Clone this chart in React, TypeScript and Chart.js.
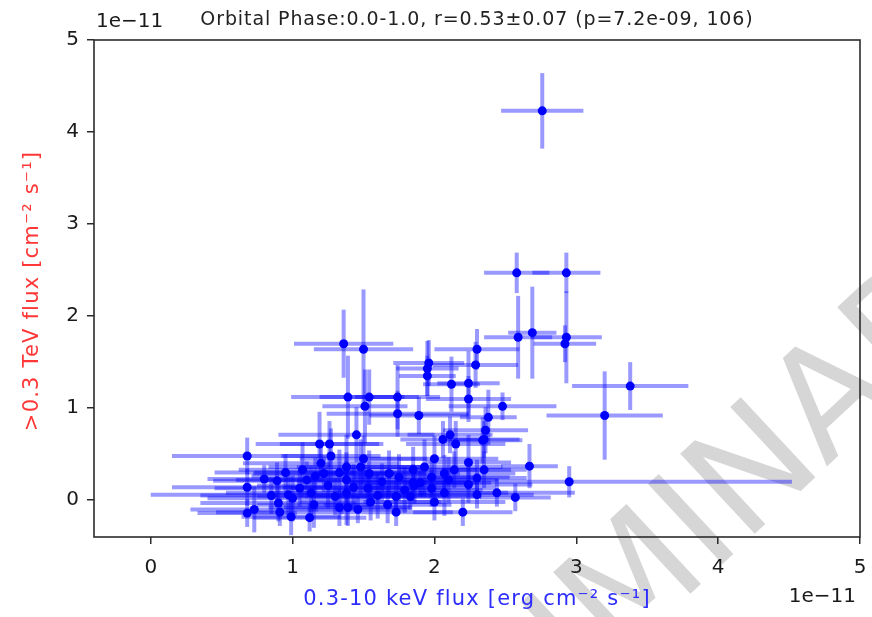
import { useEffect, useRef } from "react";
import { Chart, registerables } from "chart.js";

Chart.register(...registerables);

// Fluxes in units of 1e-11
const xTicks = [0, 1, 2, 3, 4, 5];
const yTicks = [0, 1, 2, 3, 4, 5];

const xFlux = [
  2.76, 2.58, 2.93, 2.59, 2.69, 2.93, 2.92, 3.38, 3.2, 2.95,
  1.36, 1.5, 1.96, 1.95, 1.95, 2.3, 2.29, 2.12, 2.24, 2.24,
  1.39, 1.54, 1.51, 1.74, 1.74, 1.89, 2.38, 2.48, 2.36, 2.35,
  2.06, 2.15, 2.11, 1.45, 1.19, 1.26, 2.34, 0.68, 0.68, 0.68,
  0.73, 0.8, 0.89, 0.9, 0.91, 0.99, 0.97, 1.07, 1.12, 1.13,
  1.15, 1.22, 1.33, 1.39, 1.46, 1.38, 1.38, 1.38, 1.48, 1.54,
  1.43, 1.53, 1.73, 1.73, 1.79, 1.85, 1.85, 1.93, 2.07, 2.07,
  2.14, 2.24, 2.24, 2.2, 2.35, 2.67, 2.57, 2.44, 1.83, 1.86,
  1.68, 1.98, 2.1, 1.98, 1.9, 1.1, 1.05, 1.25, 1.3, 1.6,
  1.63, 1.67, 1.27, 1.5, 1.2, 0.95, 1.0, 2.3, 2.0, 1.55,
  1.75, 2.3, 1.16, 0.85, 1.33, 2.0,
];
const xFluxErr = [
  0.29, 0.23, 0.24, 0.24, 0.17, 0.25, 0.22, 0.41, 0.41, 1.57,
  0.35, 0.35, 0.25, 0.22, 0.2, 0.3, 0.3, 0.2, 0.22, 0.3,
  0.4, 0.35, 0.3, 0.3, 0.5, 0.35, 0.2, 0.38, 0.3, 0.25,
  0.3, 0.35, 0.3, 0.55, 0.45, 0.35, 0.28, 0.53, 0.53, 0.35,
  0.45, 0.4, 0.45, 0.55, 0.45, 0.35, 0.97, 0.45, 0.4, 0.6,
  0.4, 0.5, 0.5, 0.45, 0.35, 0.55, 0.6, 0.55, 0.45, 0.4,
  0.5, 0.55, 0.6, 0.4, 0.55, 0.45, 0.45, 0.55, 0.5, 0.45,
  0.4, 0.3, 0.45, 0.35, 0.3, 0.2, 0.25, 0.55, 0.5, 0.4,
  0.5, 0.55, 0.35, 0.45, 0.5, 0.5, 0.6, 0.5, 0.55, 0.5,
  0.6, 0.45, 0.35, 0.45, 0.55, 0.5, 0.6, 0.4, 0.5, 0.5,
  0.55, 0.35, 0.45, 0.5, 0.6, 0.45,
];
const tevFlux = [
  4.23, 2.47, 2.47, 1.77, 1.82, 1.77, 1.7, 1.24, 0.92, 0.2,
  1.7, 1.64, 1.49, 1.43, 1.35, 1.64, 1.47, 1.26, 1.27, 1.1,
  1.12, 1.12, 1.02, 1.12, 0.94, 0.92, 0.9, 1.02, 0.76, 0.66,
  0.66, 0.61, 0.71, 0.71, 0.61, 0.61, 0.65, 0.48, 0.14, -0.14,
  -0.1, 0.23, 0.21, -0.03, -0.13, -0.18, 0.06, 0.33, -0.19, 0.08,
  -0.05, 0.29, -0.08, -0.08, -0.1, 0.36, 0.22, 0.08, 0.36, 0.29,
  0.14, 0.13, 0.04, -0.13, 0.11, 0.19, 0.33, 0.36, 0.29, 0.08,
  0.33, 0.41, 0.17, -0.13, 0.33, 0.37, 0.03, 0.08, 0.04, 0.16,
  0.29, 0.25, 0.22, 0.13, 0.19, 0.22, 0.13, 0.16, 0.04, 0.05,
  0.2, -0.05, 0.48, 0.45, 0.4, 0.3, 0.02, 0.06, -0.02, -0.02,
  0.25, 0.24, 0.26, 0.05, 0.3, 0.45,
];
const tevFluxErr = [
  0.41, 0.22, 0.22, 0.45, 0.5, 0.5, 0.2, 0.26, 0.48, 0.17,
  0.37, 0.65, 0.25, 0.3, 0.22, 0.22, 0.25, 0.3, 0.35, 0.25,
  0.45, 0.3, 0.4, 0.35, 0.25, 0.2, 0.3, 0.15, 0.25, 0.2,
  0.2, 0.25, 0.2, 0.3, 0.35, 0.25, 0.25, 0.2, 0.2, 0.15,
  0.25, 0.15, 0.2, 0.2, 0.15, 0.2, 0.25, 0.3, 0.15, 0.3,
  0.25, 0.2, 0.2, 0.2, 0.15, 0.35, 0.3, 0.35, 0.3, 0.25,
  0.25, 0.2, 0.2, 0.15, 0.25, 0.2, 0.25, 0.3, 0.2, 0.25,
  0.2, 0.3, 0.2, 0.15, 0.2, 0.24, 0.15, 0.15, 0.15, 0.2,
  0.25, 0.2, 0.25, 0.2, 0.15, 0.2, 0.2, 0.25, 0.2, 0.25,
  0.2, 0.2, 0.3, 0.25, 0.2, 0.2, 0.25, 0.15, 0.2, 0.2,
  0.25, 0.2, 0.2, 0.2, 0.25, 0.25,
];

const TITLE = "Orbital Phase:0.0-1.0, r=0.53±0.07 (p=7.2e-09, 106)";
const X_LABEL = "0.3-10 keV flux [erg cm⁻² s⁻¹]";
const Y_LABEL = ">0.3 TeV flux [cm⁻² s⁻¹]";
const OFFSET_TEXT = "1e−11";
const WATERMARK = "PRELIMINARY";

const FONT = "'DejaVu Sans', sans-serif";
const AXIS_COLOR = "#2b2b2b";

const watermarkPlugin = {
  id: "watermark",
  beforeDraw(chart: any) {
    const ctx = chart.ctx;
    ctx.save();
    ctx.translate(648, 580);
    ctx.rotate((-43 * Math.PI) / 180);
    ctx.font = `150px ${FONT}`;
    ctx.fillStyle = "rgba(128,128,128,0.32)";
    ctx.textAlign = "center";
    ctx.textBaseline = "middle";
    ctx.fillText(WATERMARK, 0, 0);
    ctx.restore();
  },
};

const errorBarPlugin = {
  id: "errorBars",
  beforeDatasetsDraw(chart: any) {
    const { ctx, chartArea, scales } = chart;
    const xs = scales.x;
    const ys = scales.y;
    ctx.save();
    ctx.beginPath();
    ctx.rect(chartArea.left, chartArea.top, chartArea.right - chartArea.left, chartArea.bottom - chartArea.top);
    ctx.clip();
    ctx.strokeStyle = "rgba(0,0,255,0.4)";
    ctx.lineWidth = 4;
    ctx.lineCap = "butt";
    for (let i = 0; i < xFlux.length; i++) {
      const px = xs.getPixelForValue(xFlux[i]);
      const py = ys.getPixelForValue(tevFlux[i]);
      ctx.beginPath();
      ctx.moveTo(xs.getPixelForValue(xFlux[i] - xFluxErr[i]), py);
      ctx.lineTo(xs.getPixelForValue(xFlux[i] + xFluxErr[i]), py);
      ctx.stroke();
      ctx.beginPath();
      ctx.moveTo(px, ys.getPixelForValue(tevFlux[i] - tevFluxErr[i]));
      ctx.lineTo(px, ys.getPixelForValue(tevFlux[i] + tevFluxErr[i]));
      ctx.stroke();
    }
    ctx.restore();
  },
};

const framePlugin = {
  id: "frame",
  afterDraw(chart: any) {
    const { ctx, chartArea } = chart;
    const { left, top, right, bottom } = chartArea;
    ctx.save();
    ctx.strokeStyle = AXIS_COLOR;
    ctx.lineWidth = 1.6;
    ctx.strokeRect(left, top, right - left, bottom - top);

    ctx.fillStyle = "#1a1a1a";
    ctx.font = `20px ${FONT}`;
    ctx.textBaseline = "alphabetic";
    ctx.textAlign = "left";
    ctx.fillText(OFFSET_TEXT, left + 2, top - 13);
    ctx.textAlign = "right";
    ctx.fillText(OFFSET_TEXT, right - 4, 602);

    ctx.font = `19px ${FONT}`;
    (ctx as any).letterSpacing = "0.9px";
    ctx.textAlign = "center";
    ctx.fillStyle = "#222";
    ctx.fillText(TITLE, (left + right) / 2, 25);

    ctx.font = `21px ${FONT}`;
    (ctx as any).letterSpacing = "1.2px";
    ctx.fillStyle = "rgb(45,45,255)";
    ctx.textBaseline = "middle";
    ctx.fillText(X_LABEL, (left + right) / 2, 600);

    ctx.translate(33, 291);
    ctx.rotate(-Math.PI / 2);
    ctx.fillStyle = "rgb(255,55,55)";
    ctx.fillText(Y_LABEL, 0, 0);
    ctx.restore();
  },
};

export default function App() {
  const canvasRef = useRef<HTMLCanvasElement | null>(null);

  useEffect(() => {
    const canvas = canvasRef.current;
    if (!canvas) return;
    const chart = new Chart(canvas, {
      type: "scatter",
      data: {
        datasets: [
          {
            data: xFlux.map((x, i) => ({ x, y: tevFlux[i] })),
            backgroundColor: "#0000ff",
            borderWidth: 0,
            pointRadius: 4.5,
          },
        ],
      },
      options: {
        animation: false,
        responsive: false,
        devicePixelRatio: 1,
        layout: { padding: { top: 40, right: 12, left: 0, bottom: 0 } },
        plugins: {
          legend: { display: false },
          tooltip: { enabled: false },
        },
        scales: {
          x: {
            type: "linear",
            min: -0.4,
            max: 5.0,
            afterBuildTicks: (s: any) => {
              s.ticks = xTicks.map((v) => ({ value: v }));
            },
            afterFit: (s: any) => {
              s.height = 80;
              s.paddingLeft = 0;
              s.paddingRight = 0;
            },
            ticks: {
              font: { family: FONT, size: 20 },
              color: "#1a1a1a",
              padding: 12,
              maxRotation: 0,
              autoSkip: false,
              callback: (v: any) => String(v),
            },
            grid: {
              drawOnChartArea: false,
              drawTicks: true,
              tickLength: 7,
              color: AXIS_COLOR,
              lineWidth: 1.5,
            },
            border: { display: false },
          },
          y: {
            type: "linear",
            min: -0.4,
            max: 5.0,
            afterBuildTicks: (s: any) => {
              s.ticks = yTicks.map((v) => ({ value: v }));
            },
            afterFit: (s: any) => {
              s.width = 94;
              s.paddingTop = 0;
              s.paddingBottom = 0;
            },
            ticks: {
              font: { family: FONT, size: 20 },
              color: "#1a1a1a",
              padding: 8,
              autoSkip: false,
              callback: (v: any) => String(v),
            },
            grid: {
              drawOnChartArea: false,
              drawTicks: true,
              tickLength: 7,
              color: AXIS_COLOR,
              lineWidth: 1.5,
            },
            border: { display: false },
          },
        },
      },
      plugins: [watermarkPlugin, errorBarPlugin, framePlugin],
    });
    return () => chart.destroy();
  }, []);

  return (
    <div style={{ position: "absolute", left: 0, top: 0, width: 872, height: 617, background: "#fff" }}>
      <canvas ref={canvasRef} width={872} height={617} />
    </div>
  );
}
